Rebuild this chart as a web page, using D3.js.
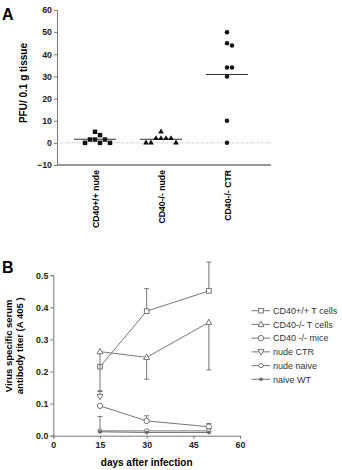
<!DOCTYPE html>
<html>
<head>
<meta charset="utf-8">
<script src="https://cdn.jsdelivr.net/npm/d3@7"></script>
<style>
  body { margin: 0; background: #fff; }
  svg { font-family: "Liberation Sans", Arial, sans-serif; }
  .tick text { font-weight: bold; font-size: 8.8px; fill: #222; }
</style>
</head>
<body>
<script>
// panel A - PFU per group
var groupsA = ["CD40+/+ nude", "CD40-/- nude", "CD40-/- CTR"];
var pfuWtNude = [5, 3.5, 1.5, 1.5, 1.5, 0, 0, 0];
var pfuKoNude = [5, 2, 2, 2, 2, 0, 0, 0];
var pfuKoCtr = [50, 45, 44, 34, 34, 30, 10, 0];
var ticksA = [-10, 0, 10, 20, 30, 40, 50, 60];

// panel B - antibody titer
var days = [15, 30, 50];
var seriesNames = ["CD40+/+ T cells", "CD40-/- T cells", "CD40 -/- mice", "nude CTR", "nude naive", "naive WT"];
var tcellsWt = [0.215, 0.388, 0.451];
var tcellsWtUp = [0, 0.07, 0.09];
var tcellsWtDown = [0, 0, 0];
var tcellsKo = [0.262, 0.244, 0.353];
var tcellsKoUp = [0, 0, 0];
var tcellsKoDown = [0.122, 0.068, 0.148];
var miceKo = [0.093, 0.046, 0.028];
var miceKoUp = [0, 0.016, 0.01];
var miceKoDown = [0, 0, 0];
var nudeCtr = [0.122];
var nudeCtrUp = [0.016];
var nudeCtrDown = [0];
var nudeNaive = [0.015, 0.015, 0.015];
var nudeNaiveUp = [0.045, 0, 0.006];
var nudeNaiveDown = [0, 0, 0];
var naiveWt = [0.012, 0.01, 0.01];
var naiveWtUp = [0, 0, 0];
var naiveWtDown = [0, 0, 0];
var ticksBx = [0, 15, 30, 45, 60];
var ticksBy = [0, 0.1, 0.2, 0.3, 0.4, 0.5];

var svg = d3.select("body").append("svg")
    .attr("width", 342)
    .attr("height", 470);

var axisCol = "#777";
var lineCol = "#666";

////////////////////////// panel A

var xA = d3.scaleBand().domain(groupsA).range([62, 260]);
var yA = d3.scaleLinear().domain([-10, 60]).range([165, 10]);

svg.append("text").text("A")
  .attr("x", 2).attr("y", 20)
  .attr("font-size", 16).attr("font-weight", "bold");

var gyA = svg.append("g")
  .attr("transform", "translate(57,0)")
  .call(d3.axisLeft(yA).tickValues(ticksA).tickSize(3).tickPadding(2));
gyA.select(".domain").attr("stroke", axisCol);
gyA.selectAll(".tick line").attr("stroke", axisCol);

// x axis line, no ticks
svg.append("line")
  .attr("x1", 57).attr("x2", 271)
  .attr("y1", yA(-10)).attr("y2", yA(-10))
  .attr("stroke", axisCol).attr("stroke-width", 1.6);

// dotted zero line
svg.append("line")
  .attr("x1", 57).attr("x2", 271)
  .attr("y1", yA(0)).attr("y2", yA(0))
  .attr("stroke", "#999").attr("stroke-width", 0.8)
  .attr("stroke-dasharray", "1,1.5");

svg.append("text").text("PFU/ 0.1 g tissue")
  .attr("transform", "translate(27," + yA(27) + ") rotate(-90)")
  .attr("text-anchor", "middle")
  .attr("font-size", 10).attr("font-weight", "bold");

groupsA.forEach(function(g) {
  svg.append("text").text(g)
    .attr("transform", "translate(" + (xA(g) + xA.bandwidth() / 2 + 3.5) + ",170) rotate(-90)")
    .attr("text-anchor", "end")
    .attr("font-size", 8.7).attr("font-weight", "bold");
});

// simple beeswarm so points dont sit on top of each other
var swarm = function(vals, cx) {
  var placed = [];
  var step = 5;
  vals.forEach(function(v) {
    var y = yA(v);
    var k = 0, off = 0;
    while (true) {
      off = (k % 2 == 1 ? 1 : -1) * Math.ceil(k / 2) * step;
      var ok = placed.every(function(p) {
        var dx = p.x - (cx + off), dy = p.y - y;
        return Math.sqrt(dx * dx + dy * dy) >= 5;
      });
      if (ok) break;
      k++;
    }
    placed.push({x: cx + off, y: y, v: v});
  });
  return placed;
};

var groupVals = [pfuWtNude, pfuKoNude, pfuKoCtr];
var shapes = [d3.symbolSquare, d3.symbolTriangle, d3.symbolCircle];
var sizes = [20, 14, 16];

groupVals.forEach(function(vals, i) {
  var cx = xA(groupsA[i]) + xA.bandwidth() / 2;
  var mean = d3.mean(vals);
  svg.append("line")
    .attr("x1", cx - 21).attr("x2", cx + 21)
    .attr("y1", yA(mean)).attr("y2", yA(mean))
    .attr("stroke", "#333").attr("stroke-width", 1);
  svg.selectAll(".pt" + i)
    .data(swarm(vals, cx))
    .enter().append("path")
      .attr("d", d3.symbol().type(shapes[i]).size(sizes[i]))
      .attr("transform", function(d) { return "translate(" + d.x + "," + d.y + ")"; })
      .attr("fill", "#111");
});

////////////////////////// panel B

var xB = d3.scaleLinear().domain([0, 60]).range([53.3, 240]);
var yB = d3.scaleLinear().domain([0, 0.5]).range([435.7, 275.2]);

svg.append("text").text("B")
  .attr("x", 2).attr("y", 273)
  .attr("font-size", 16).attr("font-weight", "bold");

var gyB = svg.append("g")
  .attr("transform", "translate(53.3,0)")
  .call(d3.axisLeft(yB).tickValues(ticksBy).tickFormat(d3.format(".1f")).tickSize(3).tickPadding(2));
gyB.select(".domain").attr("stroke", axisCol);
gyB.selectAll(".tick line").attr("stroke", axisCol);

var gxB = svg.append("g")
  .attr("transform", "translate(0,435.7)")
  .call(d3.axisBottom(xB).tickValues(ticksBx).tickSize(3).tickPadding(3));
gxB.select(".domain").attr("stroke", axisCol);
gxB.selectAll(".tick line").attr("stroke", axisCol);
gxB.selectAll(".tick text").attr("font-size", 9.5);

svg.append("text").text("days after infection")
  .attr("x", xB(30)).attr("y", 466)
  .attr("text-anchor", "middle")
  .attr("font-size", 10).attr("font-weight", "bold");

var ylab = svg.append("text")
  .attr("transform", "translate(0," + yB(0.28) + ") rotate(-90)")
  .attr("text-anchor", "middle")
  .attr("font-size", 9.5).attr("font-weight", "bold");
ylab.append("tspan").attr("x", 0).attr("y", 12).text("Virus specific serum");
ylab.append("tspan").attr("x", 0).attr("y", 23).text("antibody titer (A 405 )");

var seriesVals = [tcellsWt, tcellsKo, miceKo, nudeCtr, nudeNaive, naiveWt];
var seriesUp = [tcellsWtUp, tcellsKoUp, miceKoUp, nudeCtrUp, nudeNaiveUp, naiveWtUp];
var seriesDown = [tcellsWtDown, tcellsKoDown, miceKoDown, nudeCtrDown, nudeNaiveDown, naiveWtDown];

var marker = function(sel, i) {
  if (i == 0) {
    sel.append("rect").attr("x", -2.3).attr("y", -2.3).attr("width", 4.6).attr("height", 4.6)
      .attr("fill", "#fff").attr("stroke", lineCol).attr("stroke-width", 0.9);
  } else if (i == 1) {
    sel.append("path").attr("d", "M0,-3.2L3,2.2L-3,2.2Z")
      .attr("fill", "#fff").attr("stroke", lineCol).attr("stroke-width", 0.9);
  } else if (i == 2) {
    sel.append("circle").attr("r", 2.7)
      .attr("fill", "#fff").attr("stroke", lineCol).attr("stroke-width", 0.9);
  } else if (i == 3) {
    sel.append("path").attr("d", "M0,3.2L3,-2.2L-3,-2.2Z")
      .attr("fill", "#fff").attr("stroke", lineCol).attr("stroke-width", 0.9);
  } else if (i == 4) {
    sel.append("circle").attr("r", 2.1)
      .attr("fill", "#fff").attr("stroke", lineCol).attr("stroke-width", 0.9);
  } else {
    sel.append("circle").attr("r", 1.5)
      .attr("fill", lineCol).attr("stroke", lineCol).attr("stroke-width", 0.6);
  }
};

var line = d3.line()
  .x(function(d) { return xB(d.day); })
  .y(function(d) { return yB(d.v); });

seriesVals.forEach(function(vals, i) {
  var pts = vals.map(function(v, j) {
    return {day: days[j], v: v, up: seriesUp[i][j], down: seriesDown[i][j]};
  });
  var g = svg.append("g");
  // error bars
  pts.forEach(function(p) {
    [p.v + p.up, p.v - p.down].forEach(function(e) {
      if (e == p.v) return;
      g.append("line")
        .attr("x1", xB(p.day)).attr("x2", xB(p.day))
        .attr("y1", yB(p.v)).attr("y2", yB(e))
        .attr("stroke", lineCol).attr("stroke-width", 0.9);
      g.append("line")
        .attr("x1", xB(p.day) - 2.5).attr("x2", xB(p.day) + 2.5)
        .attr("y1", yB(e)).attr("y2", yB(e))
        .attr("stroke", lineCol).attr("stroke-width", 0.9);
    });
  });
  if (pts.length > 1) {
    g.append("path").datum(pts)
      .attr("d", line)
      .attr("fill", "none")
      .attr("stroke", lineCol).attr("stroke-width", 0.9);
  }
  pts.forEach(function(p) {
    var m = g.append("g").attr("transform", "translate(" + xB(p.day) + "," + yB(p.v) + ")");
    marker(m, i);
  });
});

// legend
var legY = d3.scalePoint().domain(seriesNames).range([310.7, 379.3]);
seriesNames.forEach(function(name, i) {
  var y = legY(name);
  var lg = svg.append("g");
  lg.append("line")
    .attr("x1", 251.5).attr("x2", 270)
    .attr("y1", y).attr("y2", y)
    .attr("stroke", lineCol).attr("stroke-width", 0.9);
  marker(lg.append("g").attr("transform", "translate(261," + y + ")"), i);
  lg.append("text").text(name)
    .attr("x", 273).attr("y", y + 3.2)
    .attr("font-size", 9).attr("fill", "#333");
});
</script>
</body>
</html>
